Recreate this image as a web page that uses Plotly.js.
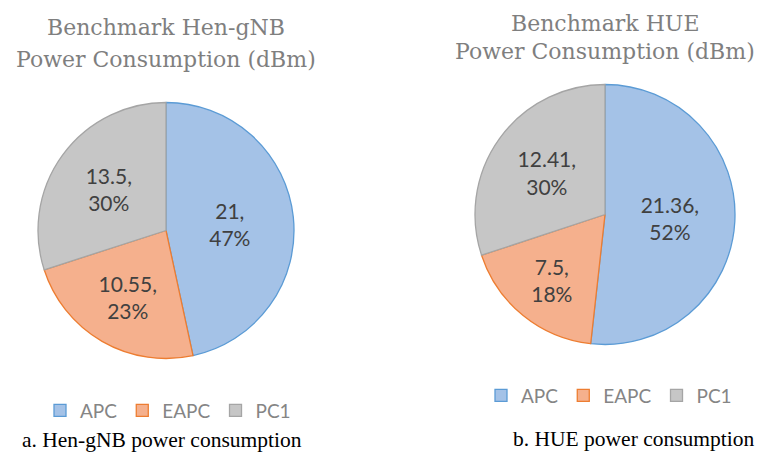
<!DOCTYPE html>
<html>
<head>
<meta charset="utf-8">
<script src="https://cdn.plot.ly/plotly-3.0.1.min.js"></script>
<style>
html,body{margin:0;padding:0;background:#fff;}
#wrap{position:relative;width:764px;height:452px;overflow:hidden;}
#left{position:absolute;left:0;top:0;width:382px;height:452px;}
#right{position:absolute;left:382px;top:0;width:382px;height:452px;}
</style>
</head>
<body>
<div id="wrap"><div id="left"></div><div id="right"></div></div>
<script>
var categories = ["APC", "EAPC", "PC1"];
var henValues = [21, 10.55, 13.5];
var hueValues = [21.36, 7.5, 12.41];
var henTitle = ["Benchmark Hen-gNB", "Power Consumption (dBm)"];
var hueTitle = ["Benchmark HUE", "Power Consumption (dBm)"];
var captions = ["a. Hen-gNB power consumption", "b. HUE power consumption"];

var fillColors = ["#a4c2e7", "#f5b08d", "#c6c6c6"];
var lineColors = ["#5b9bd5", "#ed7d31", "#a5a5a5"];
var W = 382, H = 452;
function px(x){return x / W;}
function py(y){return 1 - y / H;}

var titleFont = {family: "DejaVu Serif", size: 22, color: "#7f7f7f"};
var legFont = {family: "Lato", size: 19, color: "#858585"};
var capFont = {family: "Liberation Serif", size: 21.5, color: "#000000"};

function ann(text, x, y, font){
  return {text: text, x: px(x), y: py(y), xref: "paper", yref: "paper",
          xanchor: "center", yanchor: "middle", showarrow: false, font: font};
}

function makeChart(div, vals, cx, cy, r, titles, t1y, t2y, legX, legY, capText, capX, capY){
  var trace = {
    type: "pie",
    labels: categories,
    values: vals,
    sort: false,
    direction: "clockwise",
    rotation: 0,
    domain: {x: [px(cx - r), px(cx + r)], y: [py(cy + r), py(cy - r)]},
    marker: {colors: fillColors, line: {color: lineColors, width: 1.3}},
    texttemplate: "%{value},<br>%{percent:.0%}",
    textposition: "inside",
    insidetextorientation: "horizontal",
    textfont: {family: "Lato", size: 21, color: "#404040"},
    hoverinfo: "label+value+percent",
    showlegend: true
  };
  var layout = {
    width: W, height: H,
    margin: {l: 0, r: 0, t: 0, b: 0},
    paper_bgcolor: "rgba(0,0,0,0)",
    showlegend: true,
    legend: {orientation: "h", x: px(legX), xanchor: "center", y: py(legY), yanchor: "middle",
             font: legFont, itemwidth: 30, bgcolor: "rgba(0,0,0,0)"},
    annotations: [
      ann(titles[0], cx, t1y, titleFont),
      ann(titles[1], cx, t2y, titleFont),
      ann(capText, capX, capY, capFont)
    ]
  };
  Plotly.newPlot(div, [trace], layout, {displayModeBar: false, staticPlot: true});
}

makeChart("left", henValues, 166, 230.5, 128, henTitle, 27, 60, 168, 410.5, captions[0], 162, 440);
makeChart("right", hueValues, 605 - 382, 214.5, 130, hueTitle, 23, 51, 609 - 382, 395.5, captions[1], 633 - 382, 439);
</script>
</body>
</html>
